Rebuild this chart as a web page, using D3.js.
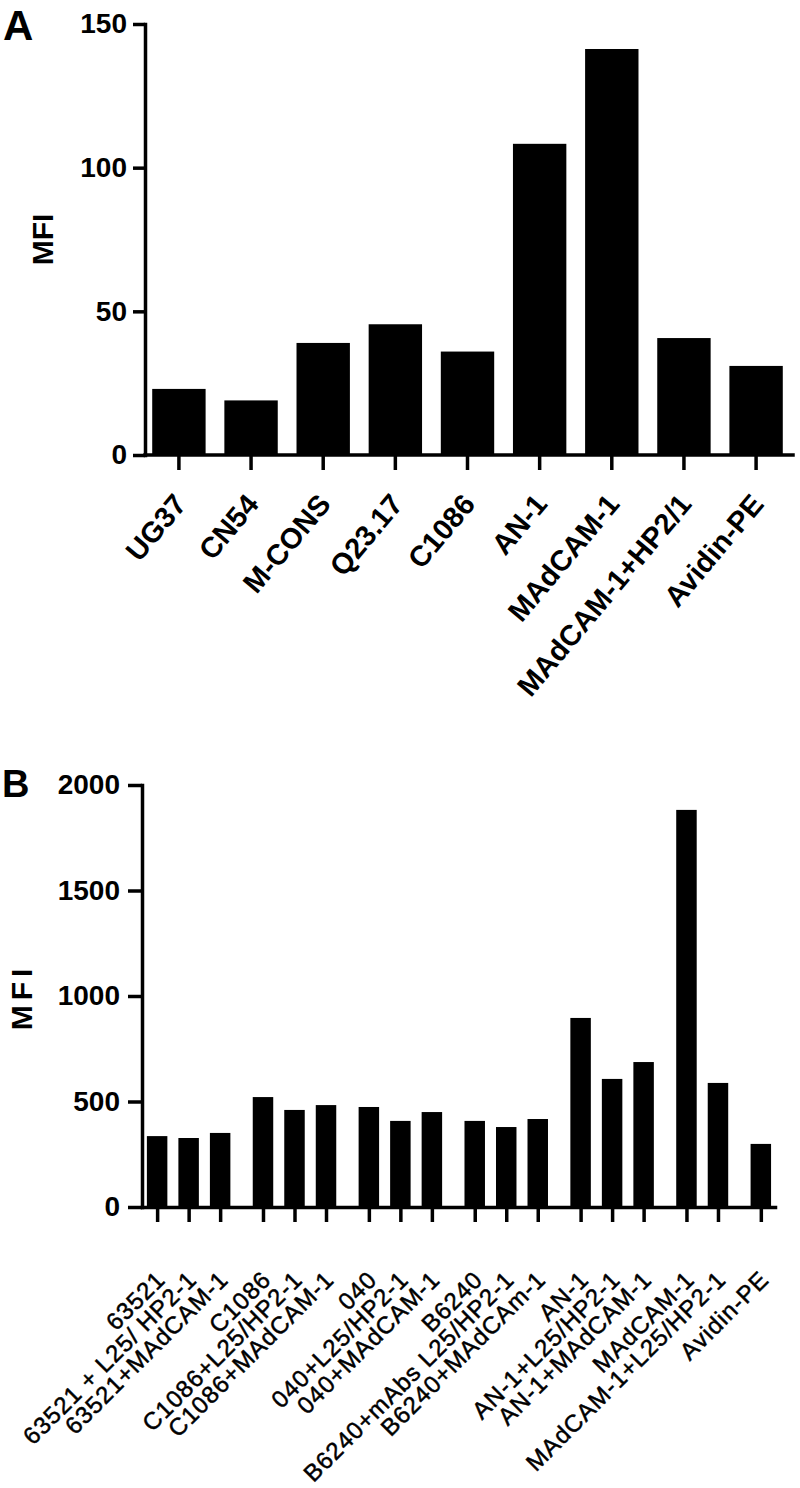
<!DOCTYPE html>
<html>
<head>
<meta charset="utf-8">
<script src="https://cdn.jsdelivr.net/npm/d3@7"></script>
<style>
  body { margin: 0; background: #fff; }
  svg { display: block; }
  text { font-family: "Liberation Sans", Arial, sans-serif; fill: #000; }
</style>
</head>
<body>
<svg id="chart" width="800" height="1488"></svg>
<script>
// Panel A data
var catsA = ["UG37", "CN54", "M-CONS", "Q23.17", "C1086", "AN-1", "MAdCAM-1", "MAdCAM-1+HP2/1", "Avidin-PE"];
var valsA = [23, 19, 39, 45.5, 36, 108.3, 141.3, 40.7, 31];
var ticksA = [0, 50, 100, 150];

// Panel B data (groups leave a small gap between sets of bars)
var catsB = ["63521", "63521 + L25/ HP2-1", "63521+MAdCAM-1",
             "C1086", "C1086+L25/HP2-1", "C1086+MAdCAM-1",
             "040", "040+L25/HP2-1", "040+MAdCAM-1",
             "B6240", "B6240+mAbs L25/HP2-1", "B6240+MAdCAm-1",
             "AN-1", "AN-1+L25/HP2-1", "AN-1+MAdCAM-1",
             "MAdCAM-1", "MAdCAM-1+L25/HP2-1",
             "Avidin-PE"];
var valsB = [336, 327, 351, 521, 460, 483, 474, 408, 450, 408, 379, 417, 896, 607, 687, 1882, 588, 299];
var groupsB = [0, 0, 0, 1, 1, 1, 2, 2, 2, 3, 3, 3, 4, 4, 4, 5, 5, 6];
var ticksB = [0, 500, 1000, 1500, 2000];

var svg = d3.select('#chart');
svg.append("rect").attr("width", 800).attr("height", 1488).attr("fill", "#fff");

function styleAxis(g, size, bold) {
    g.selectAll("path, line").attr("stroke", "#000").attr("stroke-width", 3.5);
    g.select(".domain").attr("stroke-linecap", "square");
    g.selectAll("text")
        .attr("font-size", size)
        .attr("font-weight", bold ? "bold" : "normal")
        .attr("fill", "#000");
}

// ---------- Panel A ----------
var xA = d3.scaleBand()
    .domain(catsA)
    .range([145, 790])
    .paddingInner(0.26)
    .paddingOuter(0.1);

var yA = d3.scaleLinear()
    .domain([0, 150])
    .range([455, 24]);

svg.append("g")
    .selectAll("rect")
    .data(valsA)
    .enter().append("rect")
    .attr("x", function (d, i) { return xA(catsA[i]); })
    .attr("y", function (d) { return yA(d); })
    .attr("width", xA.bandwidth())
    .attr("height", function (d) { return yA(0) - yA(d); })
    .attr("fill", "#000");

var axA = svg.append("g")
    .attr("transform", "translate(0," + yA(0) + ")")
    .call(d3.axisBottom(xA).tickSize(15).tickSizeOuter(0));
axA.select(".domain").attr("d", "M" + xA.range()[0] + ",0H" + (xA.range()[1] + 3));
styleAxis(axA, 29, true);
axA.selectAll("text")
    .attr("x", 0).attr("y", 0).attr("dy", 0)
    .attr("text-anchor", "end")
    .attr("transform", "translate(9,50) rotate(-50)");

var ayA = svg.append("g")
    .attr("transform", "translate(145,0)")
    .call(d3.axisLeft(yA).tickValues(ticksA).tickSize(12).tickSizeOuter(0).tickPadding(6));
styleAxis(ayA, 28, true);

svg.append("text")
    .attr("transform", "translate(53," + ((yA(0) + yA(150)) / 2) + ") rotate(-90)")
    .attr("text-anchor", "middle")
    .attr("font-size", 30)
    .attr("font-weight", "bold")
    .text("MFI");

svg.append("text")
    .attr("x", 3).attr("y", 40)
    .attr("font-size", 42)
    .attr("font-weight", "bold")
    .text("A");

// ---------- Panel B ----------
var gap = 0.36;
var slotB = catsB.map(function (c, i) { return i + gap * groupsB[i]; });

var xB = d3.scaleLinear()
    .domain([-0.48, d3.max(slotB) + 0.45])
    .range([142, 775]);
var stepB = xB(1) - xB(0);
var barW = stepB * 0.65;

var yB = d3.scaleLinear()
    .domain([0, 2000])
    .range([1207, 785]);

svg.append("g")
    .selectAll("rect")
    .data(valsB)
    .enter().append("rect")
    .attr("x", function (d, i) { return xB(slotB[i]) - barW / 2; })
    .attr("y", function (d) { return yB(d); })
    .attr("width", barW)
    .attr("height", function (d) { return yB(0) - yB(d); })
    .attr("fill", "#000");

var axB = svg.append("g")
    .attr("transform", "translate(0," + yB(0) + ")")
    .call(d3.axisBottom(xB).tickValues(slotB).tickSize(15).tickSizeOuter(0)
        .tickFormat(function (d, i) { return catsB[i]; }));
styleAxis(axB, 24, false);
axB.selectAll("text")
    .attr("x", 0).attr("y", 0).attr("dy", 0)
    .attr("text-anchor", "end")
    .attr("letter-spacing", 1)
    .attr("stroke", "#000")
    .attr("stroke-width", 0.5)
    .attr("transform", "translate(9,74) rotate(-45)");

var ayB = svg.append("g")
    .attr("transform", "translate(142,0)")
    .call(d3.axisLeft(yB).tickValues(ticksB).tickFormat(d3.format("d"))
        .tickSize(14).tickSizeOuter(0).tickPadding(8));
styleAxis(ayB, 28, true);

svg.append("text")
    .attr("transform", "translate(32," + ((yB(0) + yB(2000)) / 2 + 1) + ") rotate(-90)")
    .attr("text-anchor", "middle")
    .attr("font-size", 30)
    .attr("font-weight", "bold")
    .attr("letter-spacing", 5)
    .text("MFI");

svg.append("text")
    .attr("x", 2).attr("y", 797)
    .attr("font-size", 38)
    .attr("font-weight", "bold")
    .text("B");
</script>
</body>
</html>
